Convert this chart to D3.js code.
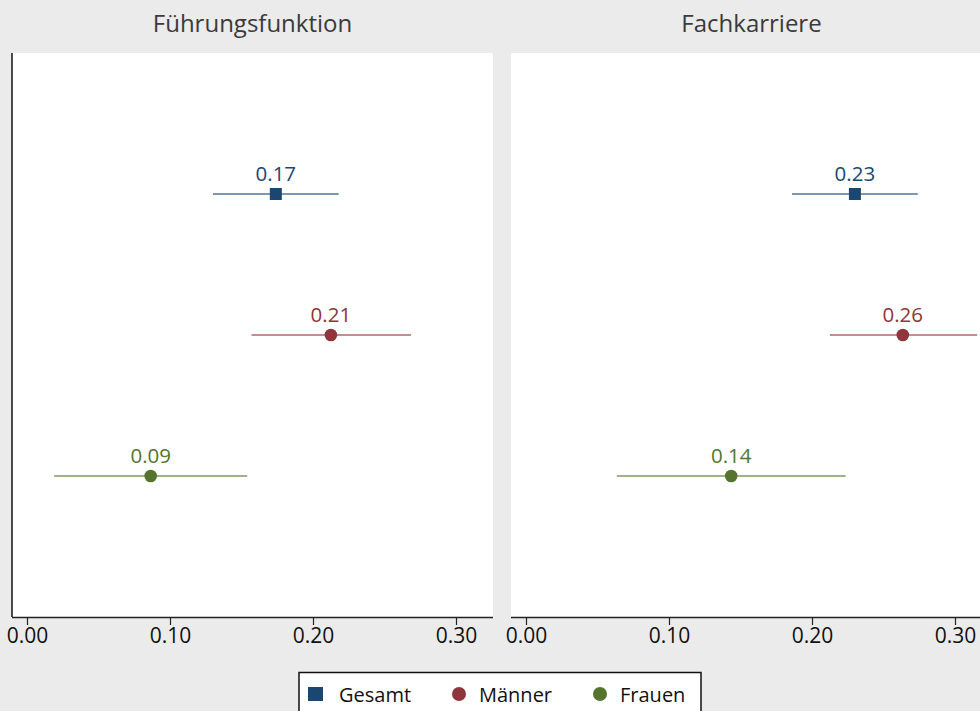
<!DOCTYPE html>
<html>
<head>
<meta charset="utf-8">
<script src="https://cdn.jsdelivr.net/npm/d3@7"></script>
<style>
  body { margin: 0; background: #ebebeb; }
  svg { display: block; font-family: "Open Sans", "Noto Sans", sans-serif; }
</style>
</head>
<body>
<div class="chart"></div>
<script>
// panels and groups
const panels = ["Führungsfunktion", "Fachkarriere"];
const groups = ["Gesamt", "Männer", "Frauen"];
const colors = ["#1a476f", "#90353b", "#55752f"];
const shapes = ["square", "circle", "circle"];

// point estimates and confidence bounds, per panel, in group order
const estFuehrung = [0.174, 0.2125, 0.0865];
const loFuehrung  = [0.130, 0.157, 0.019];
const hiFuehrung  = [0.218, 0.2685, 0.154];
const estFach     = [0.230, 0.2635, 0.1435];
const loFach      = [0.186, 0.2125, 0.0635];
const hiFach      = [0.274, 0.3155, 0.2235];
const xTicks = [0, 0.1, 0.2, 0.3];

const width = 980, height = 711;
const svg = d3.select(".chart").append("svg")
  .attr("width", width)
  .attr("height", height);

svg.append("rect").attr("width", width).attr("height", height).attr("fill", "#ebebeb");

const panelLeft = 12, panelWidth = 481, panelGap = 18;
const plotTop = 53, plotBottom = 617;

const y = d3.scalePoint()
  .domain(groups)
  .range([plotTop, plotBottom])
  .padding(1);

const panelData = [
  {title: panels[0], est: estFuehrung, lo: loFuehrung, hi: hiFuehrung},
  {title: panels[1], est: estFach, lo: loFach, hi: hiFach}
];

panelData.forEach(function (p, i) {
  let left = panelLeft + i * (panelWidth + panelGap);
  let g = svg.append("g");

  let x = d3.scaleLinear()
    .domain([0, 0.3])
    .range([left + 15, left + 444]);

  g.append("rect")
    .attr("x", left)
    .attr("y", plotTop)
    .attr("width", panelWidth)
    .attr("height", plotBottom - plotTop)
    .attr("fill", "white");

  // panel title
  g.append("text")
    .text(p.title)
    .attr("x", left + panelWidth / 2)
    .attr("y", 32)
    .attr("text-anchor", "middle")
    .attr("font-size", "24px")
    .attr("fill", "#3a3a3a");

  // left axis line only on first panel
  if (i == 0) {
    g.append("line")
      .attr("x1", left).attr("x2", left)
      .attr("y1", plotTop).attr("y2", plotBottom)
      .attr("stroke", "#111").attr("stroke-width", 1.5);
  }

  // x axis
  let xAxis = d3.axisBottom(x)
    .tickValues(xTicks)
    .tickFormat(d3.format(".2f"))
    .tickSize(8)
    .tickPadding(3);

  let ax = g.append("g")
    .attr("transform", "translate(0," + plotBottom + ")")
    .call(xAxis);
  ax.select(".domain")
    .attr("d", "M" + left + ",0.5H" + (left + panelWidth))
    .attr("stroke", "#222").attr("stroke-width", 1.3);
  ax.selectAll(".tick line").attr("stroke", "#222").attr("stroke-width", 1.2);
  ax.selectAll(".tick text")
    .attr("font-size", "21px")
    .attr("font-family", "'Open Sans', 'Noto Sans', sans-serif")
    .attr("fill", "#111");

  groups.forEach(function (grp, j) {
    let cy = y(grp);
    g.append("line")
      .attr("x1", x(p.lo[j])).attr("x2", x(p.hi[j]))
      .attr("y1", cy).attr("y2", cy)
      .attr("stroke", colors[j])
      .attr("stroke-opacity", 0.75)
      .attr("stroke-width", 1.4);

    if (shapes[j] == "square") {
      g.append("rect")
        .attr("x", x(p.est[j]) - 6)
        .attr("y", cy - 6)
        .attr("width", 12).attr("height", 12)
        .attr("fill", colors[j]);
    } else {
      g.append("circle")
        .attr("cx", x(p.est[j]))
        .attr("cy", cy)
        .attr("r", 6.3)
        .attr("fill", colors[j]);
    }

    g.append("text")
      .text(d3.format(".2f")(p.est[j]))
      .attr("x", x(p.est[j]))
      .attr("y", cy - 13)
      .attr("text-anchor", "middle")
      .attr("font-size", "20.5px")
      .attr("fill", colors[j]);
  });
});

// legend
let legend = svg.append("g");
legend.append("rect")
  .attr("x", 299).attr("y", 672.5)
  .attr("width", 402).attr("height", 60)
  .attr("fill", "white")
  .attr("stroke", "#111").attr("stroke-width", 1.5);

const legendX = [308, 448, 589];
groups.forEach(function (grp, j) {
  let lx = legendX[j];
  if (shapes[j] == "square") {
    legend.append("rect")
      .attr("x", lx).attr("y", 687)
      .attr("width", 15).attr("height", 14)
      .attr("fill", colors[j]);
  } else {
    legend.append("circle")
      .attr("cx", lx + 11).attr("cy", 694)
      .attr("r", 7)
      .attr("fill", colors[j]);
  }
  legend.append("text")
    .text(grp)
    .attr("x", lx + 31)
    .attr("y", 702)
    .attr("font-size", "20px")
    .attr("fill", "#111");
});
</script>
</body>
</html>
